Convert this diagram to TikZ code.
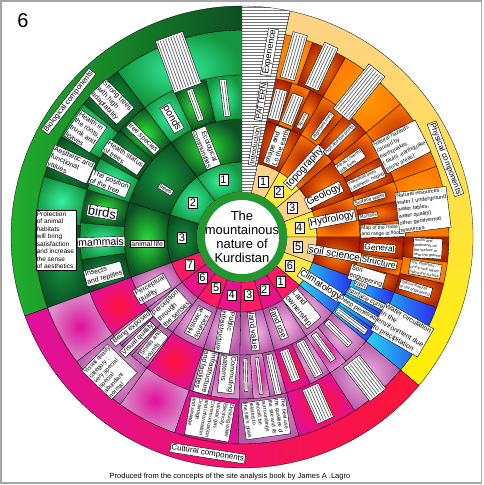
\documentclass[tikz,border=0pt]{standalone}
\usepackage{fontspec}
\setmainfont{Liberation Sans}
\usepackage{tikz}
\usetikzlibrary{patterns}
\definecolor{bioDark}{HTML}{0C4F22}
\definecolor{bioMid}{HTML}{13963F}
\definecolor{bioMint}{HTML}{35F0A0}
\definecolor{bioGreen}{HTML}{2BE03A}
\definecolor{coreGreen}{HTML}{23962F}
\definecolor{phyOrange}{HTML}{FF7800}
\definecolor{phyDark}{HTML}{A82000}
\definecolor{phyYellow}{HTML}{FFE840}
\definecolor{phyPale}{HTML}{FFD28A}
\definecolor{bandYellow}{HTML}{FFF000}
\definecolor{cliBlue}{HTML}{2A2AF0}
\definecolor{cliCyan}{HTML}{22D8F8}
\definecolor{culPink}{HTML}{E0109A}
\definecolor{culRed}{HTML}{FF1438}
\definecolor{culMauve}{HTML}{B85AA8}
\definecolor{culLight}{HTML}{F0B8E4}
\definecolor{culHot}{HTML}{FF1A66}
% one cell of a ring: style, inner radius, outer radius, from angle, to angle
\newcommand{\cellarc}[5]{\path[#1] (#4:#2pt) arc[start angle=#4, end angle=#5, radius=#2pt] -- (#5:#3pt) arc[start angle=#5, end angle=#4, radius=#3pt] -- cycle;}
% lines standing for text too small to read
\newcommand{\fine}[1]{\fontsize{2}{2.8}\selectfont\foreach \i in {1,...,#1}{\noindent\textcolor{black!60}{\rule{\linewidth}{0.7pt}}\par}}

\begin{document}
\begin{tikzpicture}[x=1pt,y=1pt]
    %
    % `tag' is the white label box, `num' the numbered boxes.
    % `fine' is a box whose text is too small to read.
    \tikzstyle{tag} = [draw,fill=white,inner sep=1pt,line width=0.4pt,align=center,font=\fontsize{7}{8}\selectfont]
    \tikzstyle{tagbig} = [tag,font=\fontsize{10}{11}\selectfont]
    \tikzstyle{tagsmall} = [tag,font=\fontsize{5}{6.2}\selectfont,align=left]
    \tikzstyle{tagtiny} = [tag,font=\fontsize{3.8}{4.8}\selectfont,align=left]
    \tikzstyle{num} = [draw,fill=white,inner sep=1.5pt,line width=0.4pt,font=\fontsize{11}{11}\selectfont]
    \tikzstyle{fine} = [draw,fill=white,inner sep=1.5pt,line width=0.4pt]
    % cell fills
    \tikzstyle{bioA} = [draw=black,line width=0.3pt,inner color=bioMint,outer color=bioMid]
    \tikzstyle{bioB} = [draw=black,line width=0.3pt,inner color=bioGreen,outer color=bioDark]
    \tikzstyle{bioC} = [draw=black,line width=0.3pt,inner color=bioMid,outer color=bioDark]
    \tikzstyle{phyA} = [draw=black,line width=0.3pt,fill=phyYellow]
    \tikzstyle{phyA2} = [draw=black,line width=0.3pt,fill=phyPale]
    \tikzstyle{phyB} = [draw=black,line width=0.3pt,inner color=phyOrange,outer color=phyDark]
    \tikzstyle{phyC} = [draw=black,line width=0.3pt,inner color=phyDark,outer color=phyOrange]
    \tikzstyle{phyD} = [draw=black,line width=0.3pt,inner color=phyOrange!70!yellow,outer color=phyOrange]
    \tikzstyle{cli} = [draw=black,line width=0.3pt,left color=cliCyan,right color=cliBlue]
    \tikzstyle{culA} = [draw=black,line width=0.3pt,fill=culHot]
    \tikzstyle{culA2} = [draw=black,line width=0.3pt,fill=culPink!70!culHot]
    \tikzstyle{culB} = [draw=black,line width=0.3pt,inner color=culLight,outer color=culMauve]
    \tikzstyle{culR} = [draw=black,line width=0.3pt,inner color=culRed,outer color=culPink]
    \tikzstyle{culP} = [draw=black,line width=0.3pt,inner color=culPink,outer color=culLight!60!culMauve]
    %
    \useasboundingbox (-242,-248) rectangle (241,237);
    \draw[black!35,line width=1.2pt] (-241,-246) rectangle (239.5,236);
    %
    % Biological: numbers
    \cellarc{bioA}{45}{75}{90}{127}
    \cellarc{bioA}{45}{75}{127}{163}
    \cellarc{bioC}{45}{75}{163}{200}
    % Biological: second ring
    \cellarc{bioB}{75}{118}{90}{127}
    \cellarc{bioC}{75}{118}{127}{163}
    \cellarc{bioB}{75}{118}{163}{200}
    % Biological: third ring
    \cellarc{bioA}{118}{162}{90}{103}
    \cellarc{bioB}{118}{162}{103}{115}
    \cellarc{bioA}{118}{162}{115}{127}
    \cellarc{bioB}{118}{162}{127}{139}
    \cellarc{bioC}{118}{162}{139}{151}
    \cellarc{bioA}{118}{162}{151}{163}
    \cellarc{bioB}{118}{162}{163}{175}
    \cellarc{bioA}{118}{162}{175}{188}
    \cellarc{bioC}{118}{162}{188}{200}
    % Biological: fourth ring
    \cellarc{bioA}{162}{207}{90}{127}
    \cellarc{bioC}{162}{207}{127}{140}
    \cellarc{bioA}{162}{207}{140}{151}
    \cellarc{bioC}{162}{207}{151}{163}
    \cellarc{bioA}{162}{207}{163}{176}
    \cellarc{bioC}{162}{207}{176}{200}
    \cellarc{draw=black,line width=0.3pt,left color=bioGreen!80!black,right color=bioDark}{207}{231}{90}{200}
    %
    % Physical: numbers
    \cellarc{phyA2}{45}{75}{60}{78}
    \cellarc{phyA}{45}{75}{40}{60}
    \cellarc{phyA2}{45}{75}{20}{40}
    \cellarc{phyA}{45}{75}{0}{20}
    \cellarc{phyA2}{45}{75}{-20}{0}
    \cellarc{phyA}{45}{75}{-40}{-20}
    % Physical: second ring
    \cellarc{phyB}{75}{118}{60}{78}
    \cellarc{phyC}{75}{118}{40}{60}
    \cellarc{phyB}{75}{118}{20}{40}
    \cellarc{phyC}{75}{118}{0}{20}
    \cellarc{phyB}{75}{118}{-20}{0}
    \cellarc{cli}{75}{118}{-40}{-20}
    % Physical: third ring
    \cellarc{phyB}{118}{162}{72}{78}
    \cellarc{phyC}{118}{162}{65}{72}
    \cellarc{phyB}{118}{162}{60}{65}
    \cellarc{phyC}{118}{162}{50}{60}
    \cellarc{phyB}{118}{162}{40}{50}
    \cellarc{phyC}{118}{162}{30}{40}
    \cellarc{phyB}{118}{162}{20}{30}
    \cellarc{phyC}{118}{162}{13}{20}
    \cellarc{phyB}{118}{162}{6}{13}
    \cellarc{phyC}{118}{162}{0}{6}
    \cellarc{phyB}{118}{162}{-8}{0}
    \cellarc{phyC}{118}{162}{-14}{-8}
    \cellarc{phyB}{118}{162}{-20}{-14}
    \cellarc{cli}{118}{162}{-25}{-20}
    \cellarc{cli}{118}{162}{-29}{-25}
    \cellarc{cli}{118}{162}{-35}{-29}
    \cellarc{cli}{118}{162}{-40}{-35}
    % Physical: fourth ring
    \cellarc{phyD}{162}{207}{70}{78}
    \cellarc{phyB}{162}{207}{60}{70}
    \cellarc{phyD}{162}{207}{40}{60}
    \cellarc{phyC}{162}{207}{20}{40}
    \cellarc{phyD}{162}{207}{0}{20}
    \cellarc{phyB}{162}{207}{-7}{0}
    \cellarc{phyD}{162}{207}{-13}{-7}
    \cellarc{phyB}{162}{207}{-20}{-13}
    \cellarc{cli}{162}{207}{-40}{-20}
    \cellarc{draw=black,line width=0.3pt,top color=phyPale,middle color=bandYellow,bottom color=bandYellow}{207}{231}{-40}{78}
    % Physical: grey strip
    \cellarc{fill=white}{45}{231}{78}{90}
    \cellarc{draw=black,line width=0.3pt,pattern=horizontal lines,pattern color=black!55}{45}{231}{78}{90}
    %
    % Cultural: numbers
    \cellarc{culA}{45}{75}{200}{217}
    \cellarc{culA2}{45}{75}{217}{234}
    \cellarc{culA}{45}{75}{234}{251}
    \cellarc{culA2}{45}{75}{251}{269}
    \cellarc{culA}{45}{75}{269}{286}
    \cellarc{culA2}{45}{75}{286}{303}
    \cellarc{culA}{45}{75}{303}{320}
    % Cultural: second ring
    \cellarc{culB}{75}{118}{200}{217}
    \cellarc{culB}{75}{118}{217}{234}
    \cellarc{culB}{75}{118}{234}{251}
    \cellarc{culB}{75}{118}{251}{269}
    \cellarc{culB}{75}{118}{269}{286}
    \cellarc{culB}{75}{118}{286}{303}
    \cellarc{culB}{75}{118}{303}{320}
    % Cultural: third ring
    \cellarc{culR}{118}{162}{200}{217}
    \cellarc{culB}{118}{162}{217}{222}
    \cellarc{culB}{118}{162}{222}{227}
    \cellarc{culB}{118}{162}{227}{234}
    \cellarc{culR}{118}{162}{234}{251}
    \cellarc{culB}{118}{162}{251}{259}
    \cellarc{culP}{118}{162}{259}{269}
    \cellarc{culB}{118}{162}{269}{274}
    \cellarc{culP}{118}{162}{274}{280}
    \cellarc{culB}{118}{162}{280}{286}
    \cellarc{culR}{118}{162}{286}{295}
    \cellarc{culB}{118}{162}{295}{303}
    \cellarc{culP}{118}{162}{303}{310}
    \cellarc{culB}{118}{162}{310}{320}
    % Cultural: fourth ring
    \cellarc{culP}{162}{207}{200}{217}
    \cellarc{culB}{162}{207}{217}{234}
    \cellarc{culP}{162}{207}{234}{251}
    \cellarc{culR}{162}{207}{251}{269}
    \cellarc{culB}{162}{207}{269}{286}
    \cellarc{culR}{162}{207}{286}{303}
    \cellarc{culB}{162}{207}{303}{320}
    \cellarc{draw=black,line width=0.3pt,left color=culPink,right color=culRed}{207}{231}{200}{320}
    %
    % Centre
    \fill[coreGreen] (0,0) circle (45pt);
    \fill[white] (0,0) circle (37pt);
    \node[align=center,font=\fontsize{13}{14}\selectfont] (core) at (0,0) {The\\mountainous\\nature of\\Kurdistan};
    %
    % Biological labels
    \node[num] (b1) at (108:60) {1};
    \node[num] (b2) at (145:60) {2};
    \node[num] (b3) at (181:60) {3};
    \node[tag,rotate=-68] (ecol) at (112:96) {Ecological\\communities};
    \node[tag,font=\fontsize{6}{6}\selectfont,rotate=-32] (trees) at (148:90) {trees};
    \node[tag] (animal) at (184:95) {animal life};
    \node[fine,text width=34pt,rotate=-83] (bf1) at (97:140) {\fine{2}};
    \node[fine,text width=30pt,rotate=-70] (bf2) at (109.5:140) {\fine{2}};
    \node[tagbig,rotate=-60] (ponds) at (120.5:138) {ponds};
    \node[tag,rotate=-44] (treesp) at (135:140) {tree species};
    \node[tag,rotate=-34,align=left] (hstat) at (146:143) {Health status\\of trees};
    \node[tag,rotate=-22,align=left] (posit) at (158:143) {The position\\of the tree};
    \node[tag,font=\fontsize{13}{13}\selectfont,rotate=-10] (birds) at (170:142) {birds};
    \node[tag,font=\fontsize{10.5}{11}\selectfont,rotate=2] (mammals) at (182:141) {mammals};
    \node[tag,rotate=15,align=left] (insects) at (195:143) {Insects\\and reptiles};
    \node[fine,text width=52pt,rotate=-70] (bf3) at (110:186) {\fine{10}};
    \node[tag,rotate=-46,align=left] (strong) at (134:188) {Strong trees\\with high\\adaptability};
    \node[tag,rotate=-34,align=left] (roots) at (146:189) {Health in\\the roots,\\trunk and\\leaves};
    \node[tag,rotate=-24,align=left] (aesth) at (157:186) {Aesthetic and\\functional\\values};
    \node[tag,font=\fontsize{6.5}{7.5}\selectfont,align=left] (protect) at (181:186) {Protection\\of animal\\habitats\\will bring\\satisfaction\\and increase\\the sense\\of aesthetics.};
    \node[tag,font=\fontsize{7.5}{8}\selectfont,rotate=52] (biolab) at (142:220) {Biological components};
    %
    % Physical labels
    \node[num] (p1) at (69:59) {1};
    \node[num] (p2) at (51:58) {2};
    \node[num] (p3) at (30:58) {3};
    \node[num] (p4) at (9:58) {4};
    \node[num] (p5) at (-10:57) {5};
    \node[num] (p6) at (-31:56) {6};
    \node[tag,rotate=70,align=left] (shape) at (69:97) {shape and\\Lo the earth};
    \node[tagbig,rotate=48] (topo) at (48:94) {topography};
    \node[tagbig,rotate=27] (geol) at (27:92) {Geology};
    \node[tagbig,rotate=11] (hydro) at (11:92) {Hydrology};
    \node[tagbig,rotate=-10] (soil) at (-10:94) {soil science};
    \node[tagbig,font=\fontsize{9}{10}\selectfont,rotate=-33] (clim) at (-31.5:92) {Climatology};
    \node[tag,rotate=81] (intro) at (82:92) {Introduction};
    \node[tag,font=\fontsize{8}{8}\selectfont,rotate=81] (pattern) at (82:137) {PATTERN};
    \node[tag,font=\fontsize{9}{9}\selectfont,rotate=80] (exper) at (81.5:187) {Experience};
    \node[fine,text width=28pt,rotate=75] (pf1) at (75:137) {\fine{4}};
    \node[fine,text width=28pt,rotate=68] (pf2) at (68.5:137) {\fine{4}};
    \node[tag,font=\fontsize{3.8}{4}\selectfont,rotate=62] (slip) at (62.5:131) {Slip area};
    \node[tag,font=\fontsize{4.5}{5}\selectfont,rotate=54] (alignl) at (54:137) {alignment lines};
    \node[tag,font=\fontsize{4.5}{5}\selectfont,rotate=45] (hilo) at (45:138) {high and low points};
    \node[tagsmall,font=\fontsize{4.5}{5.6}\selectfont,rotate=35] (areas) at (35:132) {Areas covered\\with trees};
    \node[tagsmall,font=\fontsize{4.5}{5.6}\selectfont,rotate=25] (indiv) at (25:137) {Individual trees\\( diameter, height)};
    \node[tag,font=\fontsize{5}{5.5}\selectfont,rotate=16] (surfw) at (16.5:133) {Surface water};
    \node[tag,font=\fontsize{4.5}{5}\selectfont,rotate=9] (marsh) at (9.5:128) {Marshes};
    \node[tagsmall,rotate=2] (flood) at (2.5:141) {Map of the route\\and range of floods};
    \node[tag,font=\fontsize{8.5}{9}\selectfont,rotate=-5] (general) at (-4.5:138) {General};
    \node[tag,font=\fontsize{8.5}{9}\selectfont,rotate=-11] (struct) at (-10.5:139) {Structure};
    \node[tag,font=\fontsize{6.5}{7.5}\selectfont,rotate=-17,align=left] (soileng) at (-17.5:131) {Soil\\engineering};
    \node[tag,font=\fontsize{6.5}{7}\selectfont,rotate=-22] (rain) at (-21.8:128) {rain};
    \node[tag,font=\fontsize{6.5}{7}\selectfont,rotate=-27] (surfc) at (-26.3:142) {surface current};
    \node[tag,font=\fontsize{6.5}{7}\selectfont,rotate=-32] (deep) at (-31.8:140) {Deep penetration};
    \node[fine,text width=34pt,rotate=-37] (pf3) at (-37.5:138) {\fine{2}};
    \node[fine,text width=44pt,rotate=74] (pf4) at (74:188) {\fine{5}};
    \node[fine,text width=44pt,rotate=65] (pf5) at (65:188) {\fine{5}};
    \node[fine,text width=54pt,rotate=51] (pf6) at (51:186) {\fine{7}};
    \node[tagsmall,font=\fontsize{5.5}{7}\selectfont,rotate=27] (hazard) at (29.5:183) {Natural hazards\\caused by\\earthquakes\\( faults ,earthquake\\prone areas)};
    \node[tagsmall,font=\fontsize{5.5}{7}\selectfont,rotate=7] (resour) at (8.5:183) {Natural resources :\\water ( underground\\water tables,\\water quality)\\other geothermal\\resources};
    \node[tagtiny,rotate=-3] (rocks) at (-3.5:186) {Rocks and\\sediments on\\the surface or\\near the ground};
    \node[tagtiny,rotate=-10] (thick) at (-10:186) {The thickness\\of the rock layers\\below the surface};
    \node[tagtiny,rotate=-17] (specl) at (-16.5:181) {Special features\\of soil engineering};
    \node[tag,rotate=-30,align=left] (circ) at (-30:185) {Water circulation\\in the\\environment due\\to precipitation};
    \node[tag,font=\fontsize{8}{8}\selectfont,rotate=-69] (phylab) at (21:218) {Physical components};
    %
    % Cultural labels
    \node[num] (c7) at (208:59) {7};
    \node[num] (c6) at (226:57) {6};
    \node[num] (c5) at (243:57) {5};
    \node[num] (c4) at (260:59) {4};
    \node[num] (c3) at (277:58) {3};
    \node[num] (c2) at (293:57) {2};
    \node[num] (c1) at (311:59) {1};
    \node[tag,rotate=30,align=left] (percq) at (210:104) {Perceptual\\quality};
    \node[tag,rotate=44,align=left] (percs) at (225:101) {Perception\\through\\the senses};
    \node[tag,rotate=62,align=left] (hist) at (243:96) {Historical\\sources};
    \node[tag,rotate=-100,align=left] (public) at (260:96) {Public\\infrastructure};
    \node[tag,font=\fontsize{8}{8}\selectfont,rotate=-83] (lvalue) at (277:95) {land value};
    \node[tag,font=\fontsize{8}{8}\selectfont,rotate=-68] (luse) at (293:94) {land use};
    \node[tag,font=\fontsize{8}{9}\selectfont,rotate=-50,align=left] (lown) at (310:93) {Land\\ownership};
    \node[tag,rotate=39] (expo) at (219.5:143) {Being exposed};
    \node[tag,rotate=45] (visq) at (224.5:146) {Visual quality};
    \node[tag,font=\fontsize{6}{7}\selectfont,rotate=51,align=left] (smell) at (230.5:140) {Smells and\\sounds};
    \node[tag,rotate=-105,align=left] (infra) at (255:140) {Infrastructure\\and facilities};
    \node[tag,rotate=-96,align=left] (commute) at (264:138) {Commuting\\patterns};
    \node[fine,text width=30pt,rotate=-88] (cf1) at (271.5:138) {\fine{1}};
    \node[fine,text width=34pt,rotate=-83] (cf2) at (277:140) {\fine{1}};
    \node[fine,text width=38pt,rotate=-77] (cf3) at (283:141) {\fine{2}};
    \node[fine,text width=30pt,rotate=-69] (cf4) at (290.5:137) {\fine{3}};
    \node[fine,text width=36pt,rotate=-61] (cf5) at (299:139) {\fine{3}};
    \node[fine,text width=30pt,rotate=-54] (cf6) at (306.5:137) {\fine{2}};
    \node[fine,text width=30pt,rotate=-45] (cf7) at (315:136) {\fine{2}};
    \node[tag,font=\fontsize{6}{7}\selectfont,rotate=46,align=left] (vqcat) at (225.5:189) {Visual quality\\category ;\\very special\\special\\abundant\\normal};
    \node[tagsmall,font=\fontsize{5.3}{6.3}\selectfont,rotate=-100] (drink) at (260:185) {Drinking water\\Electricity\\natural gas\\Communication\\and information\\Drainage\\and sewage};
    \node[tagsmall,font=\fontsize{5.3}{6.3}\selectfont,rotate=-82] (bestuse) at (277.5:183) {The best use :\\the qualities of\\the site and its\\surroundings\\should be\\related to\\the site's goals};
    \node[fine,text width=34pt,rotate=-66] (cf8) at (294.5:183) {\fine{6}};
    \node[fine,text width=40pt,rotate=-52] (cf9) at (311:187) {\fine{7}};
    \node[tag,font=\fontsize{8}{8}\selectfont,rotate=-9] (cullab) at (261:219) {Cultural components};
    %
    % Title and credit
    \node[font=\fontsize{20}{20}\selectfont] (six) at (-219,216) {6};
    \node[font=\fontsize{7.5}{8}\selectfont] (credit) at (-12,-240) {Produced from the concepts of the site analysis book by James A .Lagro};
    %
\end{tikzpicture}
\end{document}
